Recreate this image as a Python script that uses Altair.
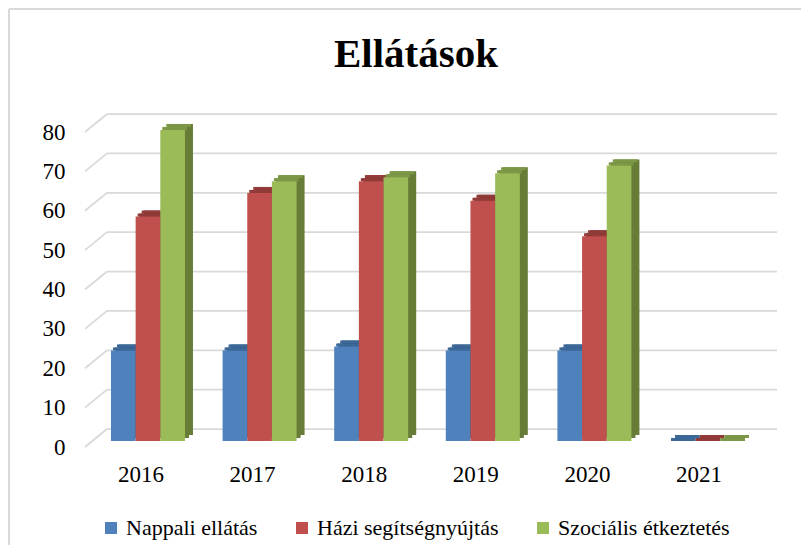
import altair as alt
import pandas as pd

years = ["2016", "2017", "2018", "2019", "2020", "2021"]
series = ["Nappali ellátás", "Házi segítségnyújtás", "Szociális étkeztetés"]
nappali = [23, 23, 24, 23, 23, 0]
hazi = [57, 63, 66, 61, 52, 0]
szocialis = [79, 66, 67, 68, 70, 0]
y_ticks = [0, 10, 20, 30, 40, 50, 60, 70, 80]
title_text = "Ellátások"

front_colors = ["#4F81BD", "#C0504D", "#9BBB59"]
top_colors = ["#3C6898", "#913B39", "#7C9846"]
side_colors = ["#2F4F77", "#7A2E2C", "#667C37"]

rows = []
for s, vals in zip(series, [nappali, hazi, szocialis]):
    for yr, v in zip(years, vals):
        rows.append({"year": yr, "series": s, "value": v})
df = pd.DataFrame(rows)
grid_df = pd.DataFrame({"v": y_ticks})
one_df = pd.DataFrame({"t": [title_text]})

W, H = 670, 315
PI, PO = 0.337, 0.170
DEPTH_X, DEPTH_Y = 22, 18
BAR_DX, BAR_DY = 7, 6
FONT = "Liberation Serif"
GRID = "#D9D9D9"


def xenc(shift, axis=None):
    return alt.X(
        "year:N",
        sort=years,
        title=None,
        scale=alt.Scale(domain=years, paddingInner=PI, paddingOuter=PO,
                        range=[shift, W + shift]),
        axis=axis,
    )


def xoff():
    return alt.XOffset("series:N", sort=series,
                       scale=alt.Scale(domain=series, paddingInner=0, paddingOuter=0))


def yscale():
    return alt.Scale(domain=[0, 80], nice=False, zero=True)


grid_diag = alt.Chart(grid_df).mark_rule(
    color=GRID, strokeWidth=1.75, y2Offset=-DEPTH_Y
).encode(
    x=alt.value(0), x2=alt.value(DEPTH_X),
    y=alt.Y("v:Q", scale=yscale(), axis=None), y2="v:Q",
)

grid_back = alt.Chart(grid_df).mark_rule(
    color=GRID, strokeWidth=1.75, yOffset=-DEPTH_Y
).encode(
    x=alt.value(DEPTH_X), x2=alt.value(W + DEPTH_X),
    y=alt.Y("v:Q", scale=yscale(), axis=None),
)


def side_layer(shift, top_off, bottom_off):
    # darker side face of the 3-D columns (drawn behind the front faces)
    return alt.Chart(df).mark_bar(
        yOffset=-(BAR_DY + top_off), y2Offset=-(BAR_DY + bottom_off)
    ).encode(
        x=xenc(BAR_DX + shift), xOffset=xoff(),
        y=alt.Y("value:Q", scale=yscale(), axis=None),
        fill=alt.Fill("series:N", scale=alt.Scale(domain=series, range=side_colors), legend=None),
    )


def top_layer(shift, top_off, bottom_off):
    # top face of the 3-D columns
    return alt.Chart(df).mark_bar(
        yOffset=-(BAR_DY + top_off), y2Offset=-(BAR_DY + bottom_off)
    ).encode(
        x=xenc(BAR_DX + shift), xOffset=xoff(),
        y=alt.Y("value:Q", scale=yscale(), axis=None), y2="value:Q",
        fill=alt.Fill("series:N", scale=alt.Scale(domain=series, range=top_colors), legend=None),
    )


side_back = side_layer(8, 6, 4.5)
side_mid = side_layer(4, 3, 1.5)
top_back = top_layer(6, 6, 3)
top_front = top_layer(2, 3, 0)

front = alt.Chart(df).mark_bar(
    yOffset=-BAR_DY, y2Offset=-BAR_DY
).encode(
    x=xenc(BAR_DX, axis=alt.Axis(labelOffset=-BAR_DX, domain=False, ticks=False, grid=False,
                                 labelFont=FONT, labelFontSize=23, labelColor="black",
                                 labelPadding=16, labelAngle=0)),
    xOffset=xoff(),
    y=alt.Y("value:Q", scale=yscale(), title=None,
            axis=alt.Axis(values=y_ticks, domain=False, ticks=False, grid=False,
                          labelFont=FONT, labelFontSize=23, labelColor="black",
                          labelPadding=20)),
    color=alt.Color(
        "series:N",
        scale=alt.Scale(domain=series, range=front_colors),
        legend=alt.Legend(orient="none", legendX=15, legendY=385, direction="horizontal",
                          title=None, symbolType="square", symbolSize=144,
                          symbolStrokeWidth=0, labelFont=FONT, labelFontSize=22,
                          labelColor="black", columnPadding=33, labelOffset=4,
                          padding=0, labelLimit=400),
    ),
)

title_mark = alt.Chart(one_df).mark_text(
    font=FONT, fontSize=41, fontWeight="bold", color="black",
    align="center", baseline="alphabetic"
).encode(
    text="t:N", x=alt.value(331), y=alt.value(-65)
)

border_top = alt.Chart(one_df).mark_rule(color=GRID, strokeWidth=2).encode(
    x=alt.value(-76), x2=alt.value(730), y=alt.value(-123)
)
border_left = alt.Chart(one_df).mark_rule(color=GRID, strokeWidth=2).encode(
    x=alt.value(-76), y=alt.value(-123), y2=alt.value(430)
)

chart = alt.layer(
    border_top, border_left, title_mark, grid_diag, grid_back,
    side_back, side_mid, top_back, top_front, front
).resolve_scale(
    x="independent", y="independent", xOffset="independent", fill="independent"
).properties(
    width=W, height=H,
    padding={"left": 77, "top": 124, "right": 46, "bottom": 98},
    autosize=alt.AutoSizeParams(type="none"),
).configure(
    font=FONT
).configure_legend(
    labelFont=FONT, labelFontSize=22, labelColor="black", symbolSize=144,
    symbolType="square", columnPadding=33, labelOffset=4, labelLimit=400
).configure_view(stroke=None)

chart.save("out.html", embed_options={"renderer": "svg", "actions": False})
